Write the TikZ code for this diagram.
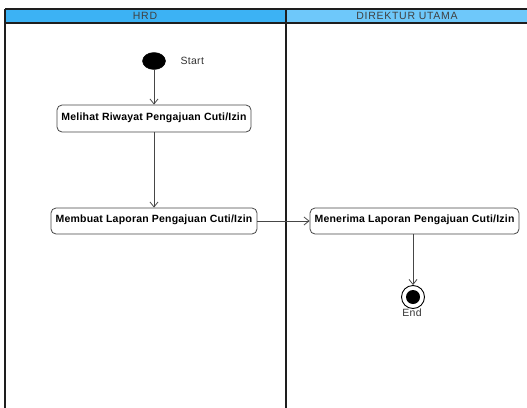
\documentclass[tikz,border=0pt]{standalone}
\usepackage{fontspec}
\setmainfont{Liberation Sans}
\usetikzlibrary{arrows.meta,shapes.geometric}
\definecolor{hrdblue}{RGB}{60,178,244}
\definecolor{dirblue}{RGB}{110,200,250}
\definecolor{lanegray}{RGB}{30,30,30}
\definecolor{flowgray}{RGB}{70,70,70}
\newcommand{\uptext}[1]{\raisebox{4pt}{#1}}
\tikzset{
  act/.style={draw=flowgray, line width=0.8pt, rounded corners=5pt, fill=white, inner sep=0pt, font=\fontsize{10.5}{11}\selectfont\bfseries\addfontfeatures{LetterSpace=2}},
  flow/.style={draw=flowgray, line width=0.8pt, -{Straight Barb[length=5pt,width=8pt]}},
  lane/.style={draw=lanegray, line width=1.8pt},
  hdr/.style={font=\fontsize{10.5}{11}\selectfont\addfontfeatures{LetterSpace=7}, text=black!75},
  lbl/.style={font=\fontsize{10.5}{11}\selectfont\addfontfeatures{LetterSpace=3}, text=black!80}
}
\begin{document}
\begin{tikzpicture}[x=1pt,y=-1pt]
\useasboundingbox (0,0) rectangle (527,407);
% header bands
\fill[hrdblue] (5,9) rectangle (286,23);
\fill[dirblue] (286,9) rectangle (530,23);
\node[hdr] (h1) at (145,16) {HRD};
\node[hdr] (h2) at (407,16) {DIREKTUR UTAMA};
% lane lines
\draw[lane] (5,9) -- (530,9);
\draw[lane] (5,23) -- (530,23);
\draw[lane] (5,9) -- (5,410);
\draw[lane] (286,9) -- (286,410);
% start
\node[draw=black, fill=black, ellipse, minimum width=23pt, minimum height=17pt, inner sep=0pt] (start) at (154,61) {};
\node[lbl, anchor=west] (st) at (177,61) {Start};
% activities
\node[act, minimum width=194pt, minimum height=27pt] (a1) at (154,118.5) {\uptext{Melihat Riwayat Pengajuan Cuti/Izin}};
\node[act, minimum width=206pt, minimum height=26pt] (a2) at (154,221) {\uptext{Membuat Laporan Pengajuan Cuti/Izin}};
\node[act, minimum width=209pt, minimum height=26pt] (a3) at (414.5,221) {\uptext{Menerima Laporan Pengajuan Cuti/Izin}};
% end
\node[draw=black, line width=0.9pt, circle, minimum size=23pt, inner sep=0pt, fill=white] (end) at (413,297) {};
\fill[black] (end.center) circle (7pt);
\node[lbl] (et) at (412,313) {End};
% flows
\draw[flow] (start) -- (a1);
\draw[flow] (a1) -- (a2);
\draw[flow] (a2) -- (a3);
\draw[flow] (a3.south -| end) -- (end);
\end{tikzpicture}
\end{document}
